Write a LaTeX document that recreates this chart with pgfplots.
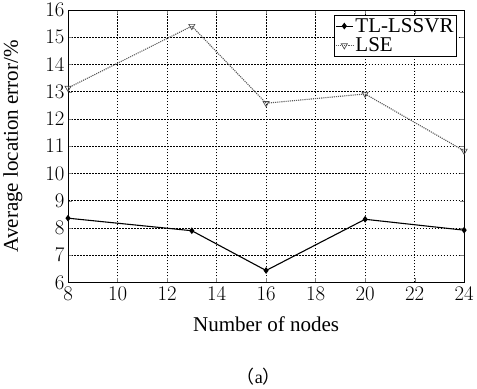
\documentclass[border=0pt]{standalone}
\usepackage{pgfplots}
\pgfplotsset{compat=1.18}
\usepackage{fontspec}
\setmainfont{Liberation Serif}
\newfontfamily\cjk{Noto Sans CJK SC}
\begin{document}
\begin{tikzpicture}
\begin{axis}[
  scale only axis, width=394bp, height=271bp,
  xmin=8, xmax=24, ymin=6, ymax=16,
  xtick={8,10,12,14,16,18,20,22,24}, ytick={6,7,8,9,10,11,12,13,14,15,16},
  tick align=inside, tick pos=both,
  major tick length=4bp,
  grid=major, grid style={black, dash pattern=on 1.6pt off 1.4pt, line width=0.6pt},
  axis line style={line width=0.9pt},
  every tick label/.append style={font=\fontsize{22}{24}\selectfont},
  xticklabel style={yshift=-1bp},
  xlabel={Number of nodes}, ylabel={Average location error/\%},
  xlabel style={font=\fontsize{21}{24}\selectfont, yshift=-9bp},
  ylabel style={font=\fontsize{21}{24}\selectfont, yshift=16bp},
  legend style={at={(rel axis cs:0.982,0.982)}, anchor=north east, font=\fontsize{21}{22}\selectfont, draw=black, line width=0.8pt, inner sep=1bp},
  legend cell align=left,
  clip=false,
]
\addplot[black, line width=1.1pt, mark=diamond*, mark size=2.5pt, mark options={solid}] coordinates {
(8,8.36) (13,7.9) (16,6.44) (20,8.32) (24,7.92)};
\addlegendentry{TL-LSSVR}
\addplot[black!65, densely dotted, line width=1.1pt, mark=triangle, mark size=3.5pt, mark options={solid, rotate=180, black!70, line width=0.7pt}] coordinates {
(8,13.14) (13,15.41) (16,12.58) (20,12.92) (24,10.83)};
\addlegendentry{LSE}
\node[font=\fontsize{18}{20}\selectfont] at (rel axis cs:0.482,0) [yshift=-94bp] {{\cjk （}a{\cjk ）}};
\end{axis}
\end{tikzpicture}
\end{document}
